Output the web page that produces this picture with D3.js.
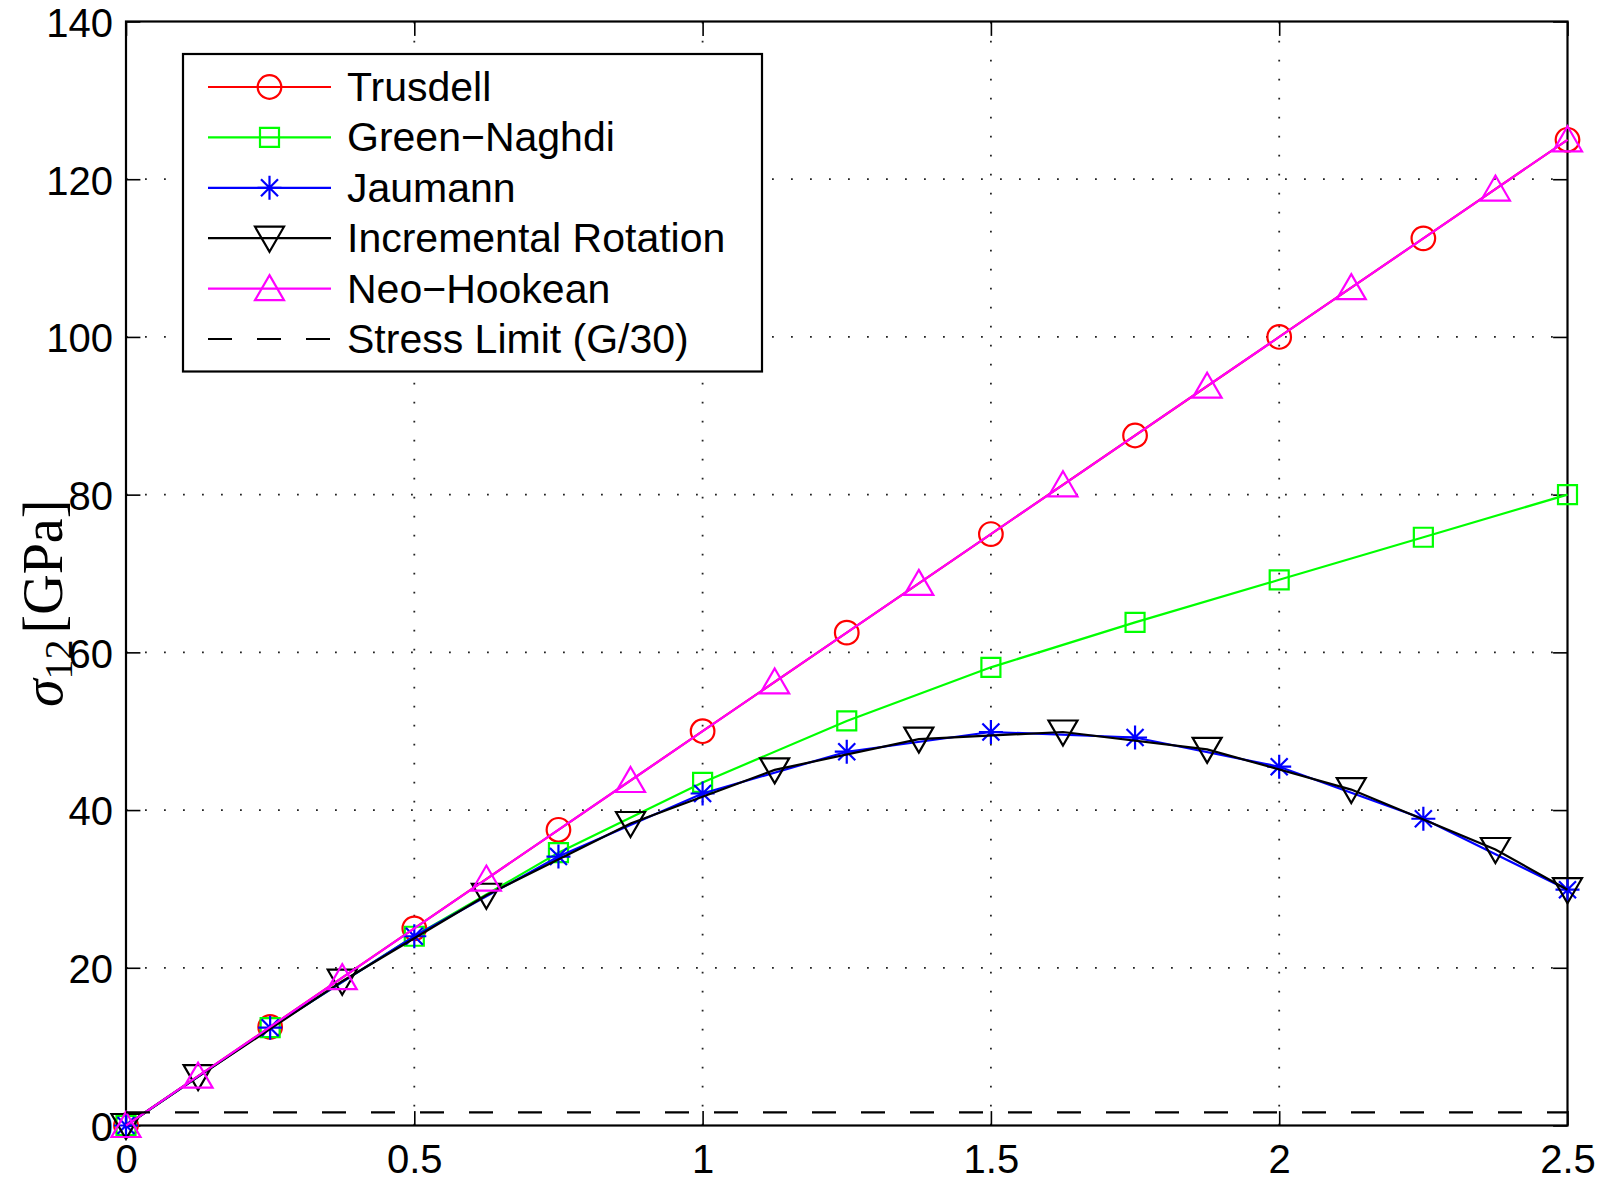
<!DOCTYPE html>
<html>
<head>
<meta charset="utf-8">
<script src="https://cdn.jsdelivr.net/npm/d3@7"></script>
<style>
  body { margin: 0; background: #fff; }
  svg { display: block; }
  text { font-family: "Liberation Sans", Arial, sans-serif; fill: #000; }
</style>
</head>
<body>
<script>
// shear strain values (x) and stress values
const xCoarse = [0, 0.25, 0.5, 0.75, 1, 1.25, 1.5, 1.75, 2, 2.25, 2.5];
const xFine = [0, 0.125, 0.375, 0.625, 0.875, 1.125, 1.375, 1.625, 1.875, 2.125, 2.375, 2.5];

const trusdell = [0, 12.5, 25, 37.5, 50, 62.5, 75, 87.5, 100, 112.5, 125];
const greenNaghdi = [0, 12.4, 24.0, 34.6, 43.5, 51.3, 58.1, 63.8, 69.2, 74.6, 80.0];
const jaumann = [0, 12.4, 24.0, 34.1, 42.1, 47.4, 49.9, 49.2, 45.5, 38.9, 29.9];
const incRotation = [0, 6.2, 18.3, 29.2, 38.3, 45.1, 49.0, 49.9, 47.7, 42.6, 35.0, 29.9];
const neoHookean = [0, 6.25, 18.75, 31.25, 43.75, 56.25, 68.75, 81.25, 93.75, 106.25, 118.75, 125];
const stressLimit = 1.667; // G/30

const xTicks = [0, 0.5, 1, 1.5, 2, 2.5];
const xTickLabels = ["0", "0.5", "1", "1.5", "2", "2.5"];
const yTicks = [0, 20, 40, 60, 80, 100, 120, 140];
const yTickLabels = ["0", "20", "40", "60", "80", "100", "120", "140"];

const seriesNames = ["Trusdell", "Green\u2212Naghdi", "Jaumann", "Incremental Rotation", "Neo\u2212Hookean", "Stress Limit (G/30)"];

const w = 1609, h = 1183;
const plotL = 126, plotR = 1567.5, plotT = 21.5, plotB = 1125.5;
const tick = 14.4;

const x = d3.scaleLinear().domain([0, 2.5]).range([plotL, plotR]);
const y = d3.scaleLinear().domain([0, 140]).range([plotB, plotT]);

const svg = d3.select("body").append("svg")
  .attr("width", w)
  .attr("height", h);

// dotted grid
const grid = svg.append("g");
grid.selectAll(".vgrid")
  .data(xTicks.slice(1, -1))
  .enter().append("line")
    .attr("x1", d => x(d)).attr("x2", d => x(d))
    .attr("y1", plotB).attr("y2", plotT)
    .style("stroke", "#222").style("stroke-width", 1.8)
    .style("stroke-dasharray", "1.8,17.2");
grid.selectAll(".hgrid")
  .data(yTicks.slice(1, -1))
  .enter().append("line")
    .attr("x1", plotL).attr("x2", plotR)
    .attr("y1", d => y(d)).attr("y2", d => y(d))
    .style("stroke", "#222").style("stroke-width", 1.8)
    .style("stroke-dasharray", "1.8,17.2");

// axes (inward ticks on all four sides)
const fontTicks = "40px";
svg.append("g")
  .attr("transform", "translate(0," + plotB + ")")
  .call(d3.axisBottom(x).tickValues(xTicks).tickSizeInner(-tick).tickSizeOuter(0)
    .tickPadding(19).tickFormat((d, i) => xTickLabels[i]))
  .call(g => g.select(".domain").remove())
  .call(g => g.selectAll("text").style("font-size", fontTicks).style("font-family", "Liberation Sans"));

svg.append("g")
  .attr("transform", "translate(0," + plotT + ")")
  .call(d3.axisTop(x).tickValues(xTicks).tickSizeInner(-tick).tickSizeOuter(0).tickFormat(() => ""))
  .call(g => g.select(".domain").remove());

svg.append("g")
  .attr("transform", "translate(" + plotL + ",0)")
  .call(d3.axisLeft(y).tickValues(yTicks).tickSizeInner(-tick).tickSizeOuter(0)
    .tickPadding(13).tickFormat((d, i) => yTickLabels[i]))
  .call(g => g.select(".domain").remove())
  .call(g => g.selectAll("text").attr("dy", "0.37em").style("font-size", fontTicks).style("font-family", "Liberation Sans"));

svg.append("g")
  .attr("transform", "translate(" + plotR + ",0)")
  .call(d3.axisRight(y).tickValues(yTicks).tickSizeInner(-tick).tickSizeOuter(0).tickFormat(() => ""))
  .call(g => g.select(".domain").remove());

svg.selectAll(".tick line").style("stroke", "#000").style("stroke-width", 1.6);

svg.append("rect")
  .attr("x", plotL).attr("y", plotT)
  .attr("width", plotR - plotL).attr("height", plotB - plotT)
  .style("fill", "none").style("stroke", "#000").style("stroke-width", 2.2);

// marker shapes
function markerPath(type) {
  if (type === "circle") return d3.arc()({innerRadius: 0, outerRadius: 11.8, startAngle: 0, endAngle: 2 * Math.PI});
  if (type === "square") return "M-9.5,-9.5L9.5,-9.5L9.5,9.5L-9.5,9.5Z";
  if (type === "star") return "M0,-12L0,12M-12,0L12,0M-8.5,-8.5L8.5,8.5M-8.5,8.5L8.5,-8.5";
  if (type === "tri-up") return "M0,-13.5L14.5,11.5L-14.5,11.5Z";
  if (type === "tri-down") return "M0,13.5L14.5,-11.5L-14.5,-11.5Z";
  return "";
}

const series = [
  {name: seriesNames[0], xs: xCoarse, ys: trusdell, color: "#ff0000", marker: "circle"},
  {name: seriesNames[1], xs: xCoarse, ys: greenNaghdi, color: "#00ff00", marker: "square"},
  {name: seriesNames[2], xs: xCoarse, ys: jaumann, color: "#0000ff", marker: "star"},
  {name: seriesNames[3], xs: xFine, ys: incRotation, color: "#000000", marker: "tri-down"},
  {name: seriesNames[4], xs: xFine, ys: neoHookean, color: "#ff00ff", marker: "tri-up"}
];

const line = d3.line().x(d => x(d[0])).y(d => y(d[1]));

series.forEach(s => {
  const pts = s.xs.map((v, i) => [v, s.ys[i]]);
  svg.append("path")
    .datum(pts)
    .attr("d", line)
    .style("fill", "none")
    .style("stroke", s.color)
    .style("stroke-width", 2.2);
  svg.selectAll(null)
    .data(pts)
    .enter().append("path")
      .attr("transform", d => "translate(" + x(d[0]) + "," + y(d[1]) + ")")
      .attr("d", markerPath(s.marker))
      .style("fill", "none")
      .style("stroke", s.color)
      .style("stroke-width", 2.2);
});

// stress limit
svg.append("line")
  .attr("x1", x(0)).attr("x2", x(2.5))
  .attr("y1", y(stressLimit)).attr("y2", y(stressLimit))
  .style("stroke", "#000").style("stroke-width", 2.2)
  .style("stroke-dasharray", "24,25");

// y label (sigma_12 [GPa]) rotated
const ylab = svg.append("text")
  .attr("transform", "translate(62,707) rotate(-90)")
  .style("font-family", "Liberation Serif, DejaVu Serif, serif");
ylab.append("tspan").text("\u03c3").style("font-size", "56px").style("font-style", "italic");
ylab.append("tspan").attr("dy", 10).text("12").style("font-size", "40px");
ylab.append("tspan").attr("dy", -10).attr("dx", 6).text("[GPa]").style("font-size", "56px");

// legend
const legend = svg.append("g");
legend.append("rect")
  .attr("x", 183).attr("y", 54)
  .attr("width", 762 - 183).attr("height", 371.5 - 54)
  .style("fill", "#fff").style("stroke", "#000").style("stroke-width", 2.2);

const entries = series.concat([{name: seriesNames[5], color: "#000000", marker: null, dashed: true}]);
entries.forEach((s, i) => {
  const ly = 87 + i * 50.4;
  legend.append("line")
    .attr("x1", 208).attr("x2", 331)
    .attr("y1", ly).attr("y2", ly)
    .style("stroke", s.color).style("stroke-width", 2.2)
    .style("stroke-dasharray", s.dashed ? "24,25" : null);
  if (s.marker) {
    legend.append("path")
      .attr("transform", "translate(269.5," + ly + ")")
      .attr("d", markerPath(s.marker))
      .style("fill", "none").style("stroke", s.color).style("stroke-width", 2.2);
  }
  legend.append("text")
    .attr("x", 347).attr("y", ly + 14)
    .style("font-size", "41px")
    .text(s.name);
});
</script>
</body>
</html>
